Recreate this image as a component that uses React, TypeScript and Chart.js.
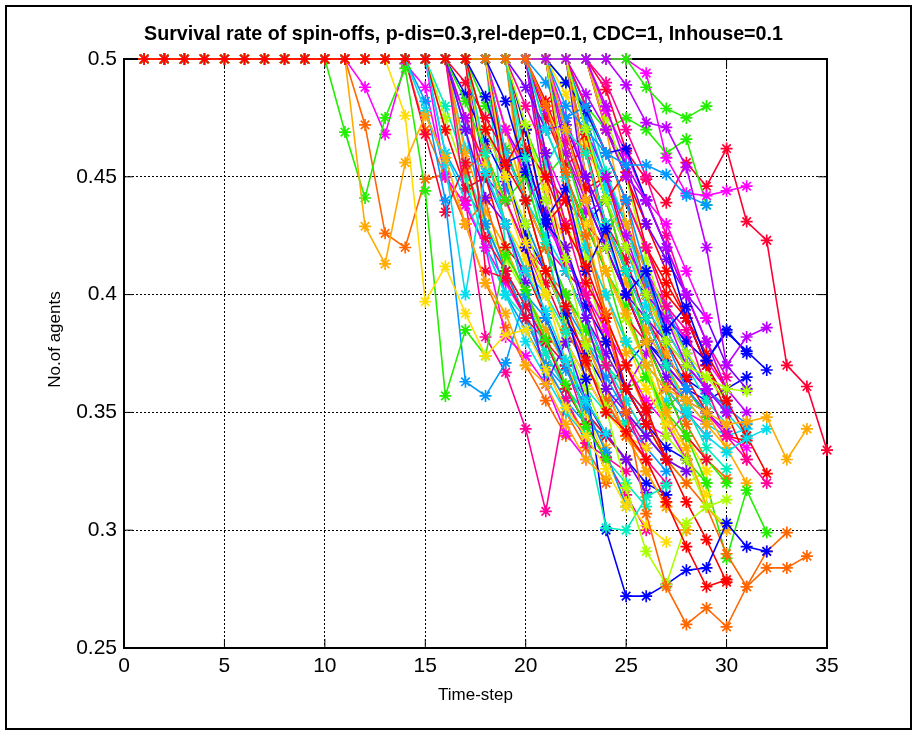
import { useEffect, useRef } from 'react';
import { Chart, registerables } from 'chart.js';

Chart.register(...registerables);

const TITLE = 'Survival rate of spin-offs, p-dis=0.3,rel-dep=0.1, CDC=1, Inhouse=0.1';
const X_LABEL = 'Time-step';
const Y_LABEL = 'No.of agents';
const X_TICKS = [0, 5, 10, 15, 20, 25, 30, 35];
const Y_TICKS = [0.25, 0.3, 0.35, 0.4, 0.45, 0.5];
const START_LEVEL = 0.5;

// Each run: [last time-step still at the starting level, values for the following steps]
type Run = [number, number[]];

const RUNS_A: Run[] = [
  [17, [0.47, 0.455, 0.44, 0.41, 0.395, 0.372, 0.35, 0.342, 0.33, 0.312, 0.293, 0.276, 0.279]],
  [20, [0.48, 0.452, 0.425, 0.392, 0.35, 0.307, 0.276, 0.26, 0.267, 0.259, 0.276, 0.284, 0.284, 0.289]],
  [11, [0.429, 0.413, 0.456, 0.476, 0.458, 0.43, 0.405, 0.392, 0.37, 0.362, 0.345, 0.33, 0.322]],
  [13, [0.476, 0.397, 0.412, 0.392, 0.374, 0.383, 0.385, 0.368, 0.352, 0.34, 0.326, 0.31]],
  [19, [0.472, 0.44, 0.415, 0.378, 0.352, 0.318, 0.291, 0.277, 0.303, 0.31, 0.313]],
  [10, [0.469, 0.441, 0.475, 0.496, 0.444, 0.357, 0.385, 0.374, 0.417, 0.402, 0.381, 0.362, 0.344, 0.33]],
  [19, [0.458, 0.422, 0.384, 0.342, 0.301, 0.3, 0.314, 0.319]],
  [14, [0.478, 0.455, 0.4, 0.452, 0.43, 0.41, 0.393, 0.372, 0.355, 0.341]],
  [14, [0.482, 0.44, 0.363, 0.357, 0.371, 0.4, 0.39, 0.368, 0.352, 0.333, 0.31]],
  [18, [0.482, 0.452, 0.43, 0.392, 0.364, 0.3, 0.272, 0.272, 0.277, 0.283, 0.284, 0.303, 0.293, 0.291]],
  [16, [0.47, 0.441, 0.43, 0.405, 0.362, 0.38, 0.355, 0.341, 0.33, 0.316]],
  [24, [0.489, 0.473, 0.471, 0.454, 0.42, 0.37, 0.382, 0.386]],
  [11, [0.488, 0.468, 0.498, 0.488, 0.45, 0.438, 0.42, 0.382, 0.374, 0.362, 0.341, 0.33]],
  [16, [0.44, 0.382, 0.367, 0.343, 0.308, 0.356, 0.337, 0.331, 0.325]],
  [14, [0.468, 0.435, 0.456, 0.424, 0.41, 0.395, 0.38, 0.36, 0.345, 0.33]],
];

const RUNS_B: Run[] = [
  [19, [0.462, 0.45, 0.428, 0.412, 0.39, 0.37, 0.352, 0.33, 0.312, 0.296, 0.278]],
  [11, [0.472, 0.426, 0.42, 0.449, 0.451, 0.43, 0.405, 0.386, 0.37, 0.355, 0.34]],
  [21, [0.47, 0.44, 0.41, 0.392, 0.37, 0.36, 0.355, 0.35, 0.345, 0.346, 0.348, 0.33, 0.343]],
  [18, [0.45, 0.422, 0.4, 0.372, 0.35, 0.33, 0.312, 0.302, 0.295]],
  [22, [0.47, 0.44, 0.42, 0.4, 0.38, 0.37, 0.365, 0.36, 0.359]],
  [25, [0.488, 0.479, 0.475, 0.48]],
  [17, [0.46, 0.43, 0.4, 0.375, 0.36, 0.345, 0.33, 0.32, 0.31]],
  [20, [0.47, 0.45, 0.42, 0.4, 0.38, 0.37, 0.36, 0.35, 0.34, 0.333, 0.339, 0.343]],
  [21, [0.48, 0.47, 0.46, 0.455, 0.455, 0.451, 0.442, 0.438]],
  [19, [0.47, 0.432, 0.445, 0.41, 0.428, 0.4, 0.41, 0.385, 0.395, 0.372, 0.384, 0.376, 0.368]],
  [20, [0.46, 0.42, 0.39, 0.36, 0.35, 0.34, 0.33, 0.325]],
  [23, [0.48, 0.455, 0.44, 0.42, 0.4, 0.38, 0.36, 0.35]],
  [25, [0.494, 0.458, 0.443, 0.442, 0.444, 0.446]],
  [19, [0.48, 0.46, 0.43, 0.4, 0.37, 0.35, 0.33, 0.32]],
  [17, [0.41, 0.407, 0.39, 0.38, 0.37, 0.35, 0.34, 0.33]],
];

const RUNS_C: Run[] = [
  [18, [0.455, 0.47, 0.43, 0.44, 0.405, 0.39, 0.36, 0.345, 0.33]],
  [16, [0.452, 0.462, 0.43, 0.41, 0.42, 0.385, 0.37, 0.355, 0.34, 0.33]],
  [20, [0.46, 0.43, 0.44, 0.4, 0.375, 0.38, 0.35, 0.335, 0.31, 0.3]],
  [19, [0.47, 0.445, 0.42, 0.43, 0.39, 0.37, 0.36, 0.345]],
  [21, [0.45, 0.415, 0.42, 0.39, 0.37, 0.34, 0.33, 0.31, 0.302]],
  [16, [0.482, 0.46, 0.44, 0.45, 0.42, 0.4, 0.385, 0.37, 0.35, 0.34]],
  [21, [0.47, 0.46, 0.43, 0.41, 0.39, 0.37, 0.352, 0.335, 0.326]],
  [18, [0.46, 0.44, 0.425, 0.41, 0.39, 0.37, 0.355, 0.34, 0.33]],
  [20, [0.49, 0.475, 0.48, 0.46, 0.44, 0.41, 0.38, 0.36, 0.35]],
  [17, [0.484, 0.456, 0.46, 0.43, 0.42, 0.395, 0.38, 0.36, 0.345, 0.335, 0.33]],
  [19, [0.488, 0.47, 0.472, 0.45, 0.43, 0.41, 0.39, 0.37, 0.36]],
  [21, [0.46, 0.44, 0.45, 0.425, 0.4, 0.39, 0.37, 0.36, 0.35]],
  [18, [0.47, 0.45, 0.43, 0.415, 0.4, 0.385, 0.37, 0.355, 0.345, 0.33]],
  [22, [0.48, 0.46, 0.44, 0.42, 0.395, 0.385, 0.36, 0.34, 0.33, 0.32]],
  [16, [0.49, 0.475, 0.46, 0.44, 0.45, 0.41, 0.4, 0.38, 0.36, 0.35]],
];

const RUNS_D: Run[] = [
  [22, [0.48, 0.46, 0.44, 0.42, 0.4, 0.39, 0.37, 0.355, 0.34, 0.324]],
  [21, [0.45, 0.42, 0.39, 0.37, 0.35, 0.33, 0.32, 0.31, 0.29, 0.276, 0.291, 0.299]],
  [18, [0.47, 0.44, 0.42, 0.4, 0.38, 0.36, 0.34, 0.325, 0.31, 0.3]],
  [20, [0.48, 0.46, 0.44, 0.41, 0.39, 0.37, 0.35, 0.33, 0.315]],
  [17, [0.47, 0.45, 0.43, 0.4, 0.38, 0.36, 0.34, 0.33]],
  [22, [0.47, 0.44, 0.41, 0.38, 0.36, 0.34, 0.32, 0.288, 0.317, 0.299]],
  [19, [0.45, 0.42, 0.4, 0.38, 0.37, 0.36, 0.35]],
  [15, [0.46, 0.44, 0.42, 0.4, 0.38, 0.365, 0.35, 0.34]],
  [16, [0.47, 0.43, 0.41, 0.39, 0.37, 0.355, 0.345, 0.34, 0.33]],
  [18, [0.456, 0.42, 0.39, 0.37, 0.355, 0.34, 0.33, 0.32, 0.315]],
  [21, [0.47, 0.44, 0.42, 0.4, 0.39, 0.38, 0.37, 0.36, 0.35]],
  [20, [0.44, 0.41, 0.39, 0.37, 0.35, 0.34, 0.33]],
  [21, [0.475, 0.45, 0.43, 0.41, 0.39, 0.37, 0.36, 0.35, 0.34, 0.335]],
  [18, [0.44, 0.42, 0.39, 0.37, 0.345, 0.33, 0.315, 0.3]],
  [20, [0.45, 0.44, 0.43, 0.42, 0.4, 0.38, 0.36, 0.34, 0.33]],
];

const RUNS_E: Run[] = [
  [21, [0.47, 0.445, 0.45, 0.42, 0.4, 0.38, 0.365, 0.35, 0.34, 0.338]],
  [19, [0.44, 0.41, 0.4, 0.38, 0.36, 0.34, 0.325, 0.31, 0.3]],
  [22, [0.45, 0.43, 0.405, 0.385, 0.37, 0.355, 0.345, 0.335, 0.32]],
  [17, [0.46, 0.43, 0.415, 0.4, 0.38, 0.365, 0.35, 0.34, 0.335]],
  [18, [0.47, 0.44, 0.41, 0.39, 0.38, 0.37, 0.355, 0.34, 0.33, 0.325]],
  [20, [0.47, 0.45, 0.43, 0.41, 0.38, 0.365, 0.35, 0.34, 0.33, 0.32]],
  [16, [0.45, 0.42, 0.4, 0.39, 0.375, 0.36, 0.35, 0.34]],
  [22, [0.47, 0.445, 0.42, 0.395, 0.38, 0.37, 0.36, 0.35, 0.34]],
  [18, [0.445, 0.43, 0.41, 0.395, 0.38, 0.365, 0.35, 0.34, 0.33]],
  [21, [0.49, 0.478, 0.46, 0.462, 0.44, 0.42, 0.39, 0.37, 0.355]],
  [22, [0.44, 0.42, 0.4, 0.38, 0.365, 0.355, 0.35, 0.342]],
  [22, [0.485, 0.47, 0.45, 0.44, 0.42, 0.4, 0.38]],
  [23, [0.478, 0.46, 0.44, 0.43, 0.41, 0.39]],
  [18, [0.46, 0.44, 0.42, 0.41, 0.39, 0.37, 0.35, 0.335]],
  [21, [0.44, 0.43, 0.41, 0.39, 0.38, 0.36, 0.35, 0.34]],
];

const RUNS_G: Run[] = [
  [20, [0.482, 0.46, 0.468, 0.44, 0.452, 0.42, 0.405, 0.39, 0.375, 0.36]],
  [22, [0.46, 0.425, 0.44, 0.4, 0.37, 0.345, 0.33, 0.322]],
  [23, [0.47, 0.43, 0.41, 0.375, 0.36, 0.35, 0.335]],
  [21, [0.485, 0.465, 0.44, 0.41, 0.38, 0.35, 0.34, 0.325]],
  [23, [0.475, 0.45, 0.415, 0.39, 0.375, 0.365, 0.355]],
  [19, [0.47, 0.45, 0.46, 0.43, 0.41, 0.395, 0.37, 0.345, 0.33, 0.32]],
  [22, [0.48, 0.452, 0.43, 0.4, 0.385, 0.37, 0.355, 0.345]],
  [20, [0.455, 0.47, 0.44, 0.425, 0.4, 0.385, 0.37, 0.36, 0.35]],
  [22, [0.475, 0.448, 0.43, 0.405, 0.395, 0.375, 0.36, 0.352, 0.345]],
  [21, [0.45, 0.43, 0.44, 0.41, 0.4, 0.39, 0.38, 0.372, 0.385, 0.375]],
  [23, [0.47, 0.455, 0.43, 0.415, 0.4, 0.39, 0.37, 0.36]],
  [20, [0.478, 0.46, 0.435, 0.44, 0.42, 0.405, 0.385, 0.37, 0.36, 0.352]],
  [22, [0.46, 0.45, 0.43, 0.41, 0.395, 0.38, 0.372, 0.36]],
  [23, [0.49, 0.47, 0.45, 0.425, 0.4, 0.38, 0.365]],
  [20, [0.475, 0.455, 0.462, 0.43, 0.415, 0.39, 0.375, 0.36, 0.35]],
];

const RUNS_H: Run[] = [
  [15, [0.47, 0.445, 0.45, 0.42, 0.41, 0.39, 0.37, 0.35, 0.34]],
  [14, [0.47, 0.45, 0.43, 0.44, 0.41, 0.39, 0.37, 0.355, 0.34]],
  [16, [0.46, 0.435, 0.42, 0.4, 0.385, 0.37, 0.35, 0.335]],
  [17, [0.455, 0.44, 0.415, 0.39, 0.37, 0.355, 0.34, 0.33]],
  [15, [0.475, 0.45, 0.43, 0.415, 0.4, 0.38, 0.36, 0.345]],
  [17, [0.48, 0.462, 0.44, 0.42, 0.4, 0.385, 0.37, 0.36, 0.365, 0.352, 0.36, 0.348]],
  [15, [0.48, 0.455, 0.43, 0.41, 0.395, 0.38, 0.36, 0.35]],
  [16, [0.462, 0.452, 0.43, 0.41, 0.4, 0.385, 0.37, 0.355, 0.36, 0.35, 0.355, 0.348]],
  [15, [0.46, 0.445, 0.43, 0.4, 0.385, 0.37, 0.36, 0.35]],
  [16, [0.485, 0.465, 0.448, 0.425, 0.41, 0.39, 0.375, 0.36, 0.37, 0.38, 0.372, 0.364, 0.358]],
  [18, [0.47, 0.455, 0.435, 0.41, 0.39, 0.375, 0.36, 0.345]],
  [16, [0.475, 0.45, 0.44, 0.42, 0.4, 0.38, 0.365, 0.35, 0.36, 0.375, 0.39, 0.382]],
  [15, [0.45, 0.438, 0.42, 0.405, 0.39, 0.375, 0.36, 0.345]],
  [17, [0.47, 0.45, 0.42, 0.41, 0.39, 0.37, 0.355, 0.34, 0.35, 0.362, 0.355]],
  [16, [0.475, 0.455, 0.44, 0.42, 0.405, 0.385, 0.37, 0.355]],
];

const RUNS_F: Run[] = [
  [23, [0.47, 0.45, 0.43, 0.41, 0.39, 0.37, 0.35, 0.33]],
  [17, [0.43, 0.41, 0.39, 0.37, 0.35, 0.335, 0.32]],
  [19, [0.43, 0.41, 0.39, 0.37, 0.355, 0.34, 0.33]],
  [21, [0.44, 0.42, 0.4, 0.38, 0.36, 0.345, 0.335]],
  [20, [0.455, 0.43, 0.41, 0.38, 0.36, 0.345, 0.33, 0.32, 0.325]],
  [21, [0.49, 0.48, 0.47, 0.475, 0.47, 0.46, 0.466, 0.438]],
  [18, [0.42, 0.4, 0.385, 0.37, 0.36, 0.35, 0.345]],
  [22, [0.46, 0.43, 0.41, 0.39, 0.37, 0.355, 0.345, 0.34, 0.343]],
  [19, [0.44, 0.42, 0.4, 0.38, 0.36, 0.345, 0.335, 0.325]],
  [22, [0.45, 0.42, 0.4, 0.38, 0.37, 0.36, 0.355, 0.36, 0.365]],
  [17, [0.45, 0.43, 0.4, 0.38, 0.36, 0.345, 0.33]],
  [22, [0.47, 0.45, 0.43, 0.41, 0.39, 0.375, 0.36]],
  [20, [0.46, 0.44, 0.41, 0.385, 0.36, 0.345, 0.34, 0.35, 0.345]],
  [21, [0.465, 0.44, 0.42, 0.4, 0.38, 0.36, 0.35, 0.34]],
  [23, [0.487, 0.461, 0.449, 0.439, 0.456, 0.446, 0.462, 0.431, 0.423, 0.37, 0.361, 0.334]],
];

const RUNS: Run[] = [
  ...RUNS_A, ...RUNS_B, ...RUNS_C, ...RUNS_D,
  ...RUNS_E, ...RUNS_G, ...RUNS_H, ...RUNS_F,
];

// Line colours, cycled through the runs in order
const PALETTE = [
  '#ff0000', '#ff6600', '#ffaa00', '#ffdd00', '#aaff00',
  '#22ee00', '#00eebb', '#00ddee', '#0099ff', '#0000ff',
  '#7700ff', '#bb00ff', '#ff00ff', '#ff0099', '#ff0033',
];

const FONT = '"Liberation Sans", Arial, Helvetica, sans-serif';
const TICK_LEN = 9;

function runPoints([flatUntil, tail]: Run) {
  const pts: { x: number; y: number }[] = [];
  for (let t = 1; t <= flatUntil; t++) pts.push({ x: t, y: START_LEVEL });
  tail.forEach((v, i) => pts.push({ x: flatUntil + 1 + i, y: v }));
  return pts;
}

const framePlugin = {
  id: 'frame',
  beforeDraw(chart: any) {
    const { ctx, width, height } = chart;
    ctx.save();
    ctx.fillStyle = '#ffffff';
    ctx.fillRect(0, 0, width, height);
    ctx.strokeStyle = '#000000';
    ctx.lineWidth = 2;
    ctx.strokeRect(6, 6, 905, 723);
    ctx.restore();
  },
  beforeDatasetsDraw(chart: any) {
    const { ctx, chartArea: a, scales } = chart;
    ctx.save();
    ctx.strokeStyle = '#000000';
    ctx.lineWidth = 2;
    ctx.strokeRect(a.left, a.top, a.right - a.left, a.bottom - a.top);
    ctx.lineWidth = 1;
    ctx.beginPath();
    for (const v of X_TICKS) {
      const px = scales.x.getPixelForValue(v);
      ctx.moveTo(px, a.bottom);
      ctx.lineTo(px, a.bottom - TICK_LEN);
      ctx.moveTo(px, a.top);
      ctx.lineTo(px, a.top + TICK_LEN);
    }
    for (const v of Y_TICKS) {
      const py = scales.y.getPixelForValue(v);
      ctx.moveTo(a.left, py);
      ctx.lineTo(a.left + TICK_LEN, py);
      ctx.moveTo(a.right, py);
      ctx.lineTo(a.right - TICK_LEN, py);
    }
    ctx.stroke();
    ctx.fillStyle = '#000000';
    ctx.textAlign = 'center';
    ctx.textBaseline = 'middle';
    // chart title
    ctx.font = `bold 19.7px ${FONT}`;
    ctx.fillText(TITLE, (a.left + a.right) / 2 - 12, 35);
    // y-axis label, rotated
    ctx.font = `17px ${FONT}`;
    ctx.translate(55, (a.top + a.bottom) / 2 - 14);
    ctx.rotate(-Math.PI / 2);
    ctx.fillText(Y_LABEL, 0, 0);
    ctx.restore();
  },
};

export default function App() {
  const canvasRef = useRef<HTMLCanvasElement | null>(null);

  useEffect(() => {
    const canvas = canvasRef.current;
    if (!canvas) return;
    const datasets = RUNS.map((run, i) => {
      const color = PALETTE[i % PALETTE.length];
      return {
        data: runPoints(run),
        borderColor: color,
        backgroundColor: color,
        borderWidth: 1.6,
        pointStyle: 'star' as const,
        pointRadius: 6,
        pointBorderWidth: 1.7,
        pointBorderColor: color,
        pointBackgroundColor: color,
        fill: false,
        tension: 0,
        clip: false as any,
      };
    });

    const chart = new Chart(canvas, {
      type: 'line',
      data: { datasets },
      options: {
        animation: false,
        responsive: false,
        devicePixelRatio: 1,
        events: [],
        layout: { padding: { top: 59, right: 88, left: 0, bottom: 0 } },
        plugins: { legend: { display: false }, tooltip: { enabled: false }, title: { display: false } },
        scales: {
          x: {
            type: 'linear',
            min: 0,
            max: 35,
            afterBuildTicks: (s: any) => { s.ticks = X_TICKS.map((v) => ({ value: v })); },
            afterFit: (s: any) => { s.height = 86; },
            ticks: { color: '#000', font: { family: FONT, size: 21 }, padding: 6, maxRotation: 0, callback: (v: any) => String(v) },
            grid: { color: '#000', lineWidth: 1, drawTicks: false },
            border: { display: false, dash: [2, 2] },
            title: { display: true, text: X_LABEL, color: '#000', font: { family: FONT, size: 17 }, padding: { top: 0, bottom: 28 } },
          },
          y: {
            type: 'linear',
            min: 0.25,
            max: 0.5,
            afterBuildTicks: (s: any) => { s.ticks = Y_TICKS.map((v) => ({ value: v })); },
            afterFit: (s: any) => { s.width = 124; },
            ticks: { color: '#000', font: { family: FONT, size: 21 }, padding: 7, callback: (v: any) => String(v) },
            grid: { color: '#000', lineWidth: 1, drawTicks: false },
            border: { display: false, dash: [2, 2] },
            title: { display: false },
          },
        },
      },
      plugins: [framePlugin],
    });
    return () => chart.destroy();
  }, []);

  return (
    <div style={{ position: 'fixed', left: 0, top: 0, width: 915, height: 734, background: '#fff' }}>
      <canvas ref={canvasRef} width={915} height={734} style={{ display: 'block' }} />
    </div>
  );
}
